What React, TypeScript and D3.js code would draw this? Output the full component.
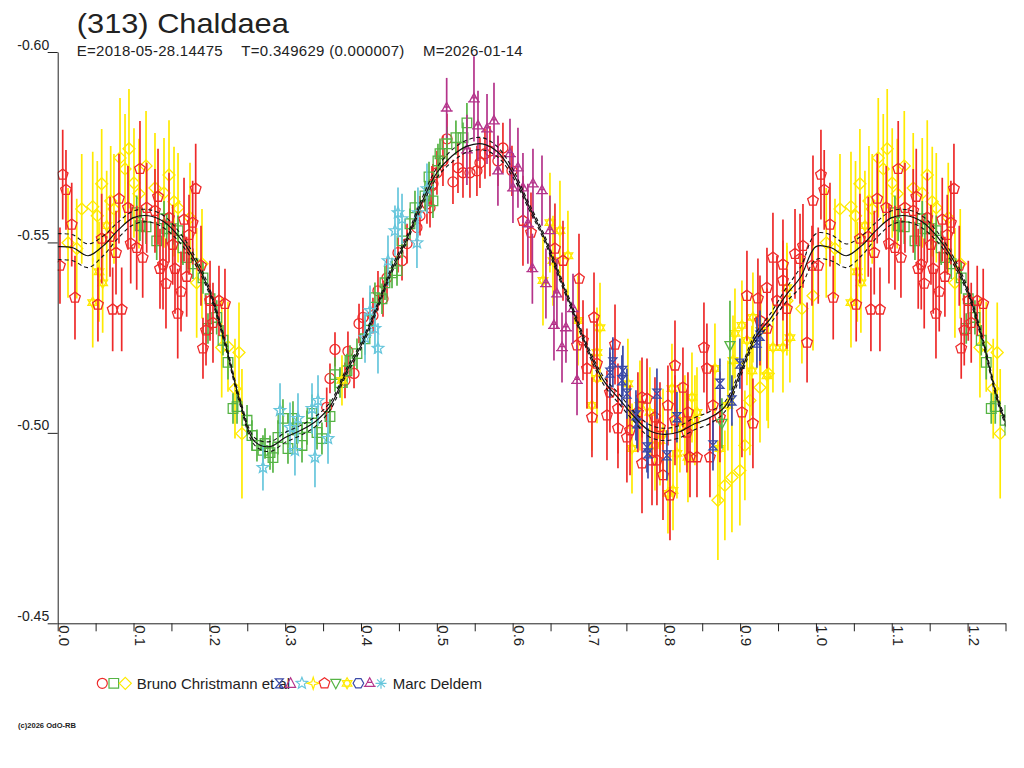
import { useEffect, useRef } from "react"
import * as d3 from "d3"

// each observation: [phase, magnitude, error]
type Obs = [number, number, number]

// ---- Bruno Christmann et al ----
const brunoCircles: Obs[] = [
  [0.3657, -0.5219, 0.0045], [0.3591, -0.5143, 0.0039], [0.3828, -0.5214, 0.0052], [0.3908, -0.5156, 0.0039],
  [0.3789, -0.5138, 0.0047], [0.3548, -0.5067, 0.0052], [0.3974, -0.5287, 0.0052], [0.4158, -0.5308, 0.0047],
  [0.4026, -0.5303, 0.0052], [0.4224, -0.5373, 0.0052], [0.429, -0.5352, 0.0047], [0.4343, -0.5407, 0.0052],
  [0.4488, -0.5473, 0.0052], [0.4541, -0.5452, 0.0052], [0.4607, -0.5497, 0.0052], [0.4738, -0.5539, 0.0052],
  [0.4778, -0.557, 0.0052], [0.491, -0.5591, 0.0052], [0.4949, -0.5654, 0.0052], [0.5134, -0.5772, 0.0066],
  [0.5279, -0.5696, 0.0066], [0.5345, -0.5683, 0.0066], [0.5437, -0.5683, 0.0066], [0.5529, -0.5688, 0.0066],
  [0.5569, -0.5709, 0.0066], [0.5213, -0.5659, 0.0058], [0.5081, -0.5714, 0.0066], [0.5002, -0.5683, 0.0058],
  [0.4936, -0.5649, 0.0052], [0.5872, -0.5748, 0.0066], [0.5806, -0.5714, 0.0066], [0.5701, -0.574, 0.0066],
  [0.5635, -0.5733, 0.0066], [0.487, -0.5601, 0.0052], [0.5991, -0.5688, 0.0066],
]

const brunoSquares: Obs[] = [
  [0.1042, -0.5578, 0.0045], [0.1085, -0.5544, 0.004], [0.1165, -0.5541, 0.0045], [0.1306, -0.5504, 0.005],
  [0.1402, -0.5562, 0.0047], [0.1437, -0.5536, 0.004], [0.1521, -0.5536, 0.0042], [0.1587, -0.5531, 0.004],
  [0.1652, -0.5486, 0.0045], [0.1701, -0.546, 0.004], [0.1784, -0.5444, 0.004], [0.1916, -0.5407, 0.0042],
  [0.2009, -0.5352, 0.004], [0.2097, -0.5303, 0.0045], [0.1982, -0.5274, 0.004], [0.218, -0.5243, 0.004],
  [0.2246, -0.5185, 0.0045], [0.2312, -0.5064, 0.004], [0.2365, -0.5069, 0.0045], [0.2497, -0.5033, 0.004],
  [0.2562, -0.4993, 0.004], [0.2628, -0.4967, 0.0042], [0.2734, -0.4972, 0.004], [0.2707, -0.4954, 0.004],
  [0.28, -0.4948, 0.0045], [0.2839, -0.4935, 0.004], [0.2905, -0.4988, 0.0045], [0.2971, -0.5038, 0.005],
  [0.3037, -0.4959, 0.004], [0.3103, -0.5038, 0.0045], [0.3156, -0.5011, 0.004], [0.3222, -0.4967, 0.0045],
  [0.3288, -0.5014, 0.0045], [0.3354, -0.5051, 0.005], [0.342, -0.5001, 0.0045], [0.3485, -0.4985, 0.0042],
  [0.3591, -0.5043, 0.0045], [0.3657, -0.5153, 0.0045], [0.3723, -0.5132, 0.004], [0.3815, -0.5163, 0.0045],
  [0.3855, -0.519, 0.004], [0.3947, -0.5208, 0.004], [0.4053, -0.5247, 0.0042], [0.4119, -0.5295, 0.0045],
  [0.4184, -0.5355, 0.004], [0.4277, -0.5352, 0.004], [0.4316, -0.5394, 0.0045], [0.4409, -0.542, 0.004],
  [0.4475, -0.5426, 0.004], [0.4541, -0.5504, 0.0045], [0.4646, -0.5549, 0.004], [0.4712, -0.5591, 0.0045],
  [0.4844, -0.5622, 0.004], [0.4949, -0.5609, 0.0045], [0.4897, -0.5672, 0.004], [0.5015, -0.5714, 0.0045],
  [0.5042, -0.5733, 0.004], [0.5134, -0.5759, 0.0045], [0.5252, -0.5775, 0.0045], [0.5345, -0.5775, 0.004],
  [0.5397, -0.5814, 0.0052],
]

const brunoDiamonds: Obs[] = [
  [0.0136, -0.5499, 0.0144], [0.0251, -0.5484, 0.0131], [0.0317, -0.5588, 0.0144], [0.0462, -0.5594, 0.0144],
  [0.0522, -0.557, 0.0144], [0.058, -0.5654, 0.0144], [0.0699, -0.5609, 0.0144], [0.0742, -0.5588, 0.0144],
  [0.0822, -0.5722, 0.0157], [0.0888, -0.5693, 0.0144], [0.094, -0.5746, 0.0157], [0.1006, -0.5656, 0.0144],
  [0.1072, -0.5628, 0.0144], [0.1165, -0.5701, 0.0144], [0.1283, -0.5643, 0.0144], [0.1402, -0.563, 0.0144],
  [0.1468, -0.5677, 0.0144], [0.1534, -0.5607, 0.0144], [0.1587, -0.5591, 0.0144], [0.1745, -0.5565, 0.0144],
  [0.1833, -0.5394, 0.0144], [0.1903, -0.5444, 0.0144], [0.2163, -0.5224, 0.0131], [0.2246, -0.5226, 0.0118],
  [0.2391, -0.5211, 0.0131], [0.2338, -0.5116, 0.0131], [0.243, -0.4998, 0.017], [0.8707, -0.4823, 0.0157],
  [0.8799, -0.4862, 0.0144], [0.8892, -0.4883, 0.0144], [0.8997, -0.4901, 0.0144], [0.9063, -0.4967, 0.0144],
  [0.9129, -0.5085, 0.0144], [0.9262, -0.5119, 0.0144], [0.9371, -0.5156, 0.0144], [0.9815, -0.5326, 0.0144],
  [0.9961, -0.536, 0.0144], [0.9617, -0.5347, 0.0144],
]

// ---- Marc Deldem ----
const marcHourglass: Obs[] = [
  [0.7322, -0.5185, 0.0066], [0.7283, -0.5158, 0.0066], [0.7454, -0.5163, 0.0066], [0.7441, -0.5138, 0.0066],
  [0.7507, -0.5103, 0.0066], [0.7626, -0.5046, 0.0066], [0.764, -0.5025, 0.0066], [0.7772, -0.4962, 0.0066],
  [0.7785, -0.4946, 0.0066], [0.7903, -0.5103, 0.0066], [0.8035, -0.4941, 0.0066], [0.8167, -0.5041, 0.0066],
  [0.8642, -0.4967, 0.0066], [0.8734, -0.5129, 0.0066], [0.8892, -0.5085, 0.0066], [0.8997, -0.5182, 0.0066],
  [0.9222, -0.5237, 0.0066], [0.9262, -0.5255, 0.0066],
]

const marcCyanStars: Obs[] = [
  [0.2707, -0.4909, 0.006], [0.2932, -0.5059, 0.0071], [0.3064, -0.5014, 0.0066], [0.3169, -0.5038, 0.0066],
  [0.3129, -0.4954, 0.0066], [0.3354, -0.5064, 0.0066], [0.3393, -0.4936, 0.0079], [0.3433, -0.5085, 0.0066],
  [0.3565, -0.4985, 0.0066], [0.4224, -0.5222, 0.0066], [0.4184, -0.5274, 0.0066], [0.4119, -0.5321, 0.0066],
  [0.4053, -0.525, 0.0066], [0.4356, -0.5452, 0.0066], [0.4448, -0.5531, 0.0066], [0.4488, -0.5578, 0.0066],
  [0.4541, -0.5562, 0.0066], [0.4738, -0.5499, 0.0066], [0.4751, -0.5578, 0.0066], [0.487, -0.5641, 0.0066],
]

const marcPentagons: Obs[] = [
  [0.0066, -0.5678, 0.0118], [0.0109, -0.5638, 0.0105], [0.0185, -0.5547, 0.011], [0.003, -0.5439, 0.01],
  [0.0228, -0.5355, 0.011], [0.058, -0.551, 0.0118], [0.069, -0.5515, 0.0105], [0.0769, -0.5473, 0.011],
  [0.0531, -0.5337, 0.0097], [0.0725, -0.5324, 0.011], [0.0844, -0.5324, 0.011], [0.0808, -0.5615, 0.0118],
  [0.0927, -0.5591, 0.011], [0.1085, -0.5693, 0.0126], [0.0963, -0.5497, 0.0105], [0.1042, -0.5486, 0.011],
  [0.1121, -0.546, 0.0105], [0.1174, -0.5591, 0.0118], [0.1283, -0.5583, 0.011], [0.1323, -0.562, 0.0126],
  [0.1389, -0.5442, 0.0118], [0.1349, -0.5431, 0.0105], [0.1428, -0.5392, 0.0118], [0.1468, -0.5565, 0.0118],
  [0.1517, -0.5494, 0.0105], [0.1547, -0.5431, 0.0118], [0.1583, -0.5313, 0.0118], [0.1626, -0.5371, 0.0105],
  [0.1666, -0.556, 0.011], [0.1732, -0.552, 0.0105], [0.178, -0.5552, 0.011], [0.182, -0.5641, 0.0118],
  [0.1701, -0.541, 0.0105], [0.189, -0.5439, 0.0105], [0.1916, -0.5222, 0.008], [0.1956, -0.5269, 0.0092],
  [0.2009, -0.5347, 0.0105], [0.2048, -0.5289, 0.0105], [0.2127, -0.5347, 0.0092], [0.2206, -0.5339, 0.0092],
  [0.6136, -0.5557, 0.0118], [0.6242, -0.5526, 0.0105], [0.6558, -0.5484, 0.0118], [0.6664, -0.5452, 0.0105],
  [0.6875, -0.5405, 0.0118], [0.6849, -0.523, 0.0092], [0.6928, -0.5243, 0.0105], [0.7073, -0.5303, 0.0118],
  [0.735, -0.5232, 0.0105], [0.7046, -0.5041, 0.0105], [0.7244, -0.5046, 0.0118], [0.698, -0.5169, 0.0105],
  [0.7112, -0.5182, 0.0118], [0.7283, -0.5106, 0.0105], [0.7389, -0.5064, 0.0118], [0.7706, -0.5093, 0.0105],
  [0.7772, -0.509, 0.0105], [0.7548, -0.5007, 0.0118], [0.7706, -0.492, 0.0131], [0.7838, -0.4928, 0.0118],
  [0.7983, -0.4889, 0.0118], [0.8075, -0.4836, 0.0118], [0.8141, -0.5177, 0.0118], [0.8246, -0.5119, 0.0105],
  [0.8312, -0.5054, 0.0105], [0.8431, -0.4936, 0.0105], [0.8562, -0.5169, 0.0118], [0.8523, -0.5224, 0.0118],
  [0.8642, -0.5072, 0.0105], [0.8602, -0.4936, 0.0105], [0.8734, -0.5041, 0.0118], [0.9024, -0.5054, 0.0118],
  [0.909, -0.536, 0.0118], [0.9169, -0.5025, 0.0118], [0.9354, -0.5381, 0.0105], [0.9262, -0.5295, 0.0118],
  [0.9354, -0.5274, 0.0105], [0.7877, -0.5041, 0.0105], [0.7943, -0.5015, 0.0118], [0.7389, -0.5012, 0.0105],
  [0.7507, -0.4988, 0.0118], [0.7652, -0.5054, 0.0105], [0.8048, -0.5072, 0.0105], [0.8141, -0.5033, 0.0118],
  [0.8299, -0.5001, 0.0105], [0.8339, -0.4936, 0.0105], [0.7903, -0.4928, 0.0118], [0.9433, -0.546, 0.0118],
  [0.9565, -0.5442, 0.0118], [0.9235, -0.5353, 0.0105], [0.9565, -0.54, 0.0105], [0.9724, -0.547, 0.0118],
  [0.9829, -0.5491, 0.011], [0.979, -0.5457, 0.0118], [0.9948, -0.5439, 0.0105], [0.9961, -0.561, 0.0118],
  [0.9883, -0.5237, 0.0105], [0.9486, -0.5347, 0.0118], [0.9617, -0.5326, 0.0105],
]

const marcDownTri: Obs[] = [
  [0.8866, -0.5229, 0.0118], [0.876, -0.5025, 0.0066],
]

const marcYellowStars: Obs[] = [
  [0.0646, -0.5544, 0.0144], [0.0545, -0.5423, 0.0131], [0.0593, -0.5394, 0.0131], [0.0462, -0.5342, 0.0118],
  [0.3749, -0.5138, 0.0066], [0.6492, -0.5552, 0.0131], [0.6624, -0.5531, 0.0131], [0.6532, -0.5452, 0.0118],
  [0.6729, -0.5465, 0.0118], [0.64, -0.54, 0.0118], [0.6862, -0.5295, 0.0118], [0.7152, -0.5276, 0.0118],
  [0.7112, -0.5211, 0.0118], [0.7046, -0.5072, 0.0118], [0.7112, -0.5143, 0.0118], [0.752, -0.5129, 0.0118],
  [0.7574, -0.4959, 0.0118], [0.7679, -0.5072, 0.0118], [0.781, -0.5054, 0.0118], [0.7877, -0.4967, 0.0118],
  [0.7943, -0.498, 0.0118], [0.7983, -0.4998, 0.0118], [0.8101, -0.5116, 0.0118], [0.8167, -0.4946, 0.0118],
  [0.8115, -0.4849, 0.0105], [0.8048, -0.4841, 0.0105], [0.8206, -0.5014, 0.0118], [0.8272, -0.5033, 0.0118],
  [0.8312, -0.4936, 0.0118], [0.8365, -0.5093, 0.0118], [0.8431, -0.5054, 0.0118], [0.8404, -0.5033, 0.0118],
  [0.8668, -0.5169, 0.0118], [0.8734, -0.4959, 0.0144], [0.8839, -0.5072, 0.0118], [0.8906, -0.519, 0.0118],
  [0.8932, -0.5261, 0.0118], [0.9024, -0.5282, 0.0118], [0.909, -0.5243, 0.0118], [0.9156, -0.5163, 0.0118],
  [0.9169, -0.5303, 0.0118], [0.9271, -0.5269, 0.0118], [0.9354, -0.515, 0.0118], [0.9433, -0.5224, 0.0118],
  [0.9565, -0.5224, 0.0118], [0.9657, -0.525, 0.0118], [0.9617, -0.5381, 0.0118],
]

const marcTriCross: Obs[] = [
  [0.513, -0.5853, 0.0079], [0.549, -0.5877, 0.0112], [0.5543, -0.5806, 0.0092], [0.5662, -0.5798, 0.0092],
  [0.5754, -0.5819, 0.01], [0.5397, -0.5743, 0.0092], [0.5806, -0.5688, 0.0092], [0.5965, -0.5733, 0.0092],
  [0.607, -0.5696, 0.0105], [0.6004, -0.5643, 0.0092], [0.6136, -0.5643, 0.0092], [0.6268, -0.5654, 0.0092],
  [0.6387, -0.5636, 0.0092], [0.6201, -0.5549, 0.0105], [0.6492, -0.5531, 0.0092], [0.626, -0.5431, 0.0092],
  [0.6439, -0.5392, 0.0092], [0.6584, -0.5365, 0.0092], [0.6796, -0.5326, 0.0092], [0.6545, -0.5282, 0.0092],
  [0.6703, -0.5276, 0.0092], [0.6651, -0.5224, 0.0092], [0.6849, -0.5138, 0.0092],
]

// ---- Fourier fit (centre) and its 1-sigma band ----
const fitPhase = [
  0, 0.02, 0.04, 0.06, 0.08, 0.1, 0.12, 0.14, 0.16, 0.18, 0.2, 0.22, 0.24, 0.26, 0.28, 0.3, 0.32, 0.34,
  0.36, 0.38, 0.4, 0.42, 0.44, 0.46, 0.48, 0.5, 0.52, 0.54, 0.56, 0.58, 0.6, 0.62, 0.64, 0.66, 0.68, 0.7,
  0.72, 0.74, 0.76, 0.78, 0.8, 0.82, 0.84, 0.86, 0.88, 0.9, 0.92, 0.94, 0.96, 0.98, 1.0,
]
const fitMag = [
  -0.5489, -0.5486, -0.5465, -0.5491, -0.5533, -0.5565, -0.557, -0.5554, -0.5515, -0.5457, -0.5373, -0.5242,
  -0.5085, -0.4977, -0.4964, -0.4988, -0.5006, -0.503, -0.5072, -0.5158, -0.5229, -0.5323, -0.5426, -0.5507,
  -0.5604, -0.5683, -0.5727, -0.5753, -0.5759, -0.5738, -0.5683, -0.5601, -0.552, -0.542, -0.5318, -0.5216,
  -0.5137, -0.509, -0.5043, -0.5006, -0.4996, -0.5003, -0.5024, -0.504, -0.5069, -0.5156, -0.525, -0.53,
  -0.536, -0.541, -0.5489,
]
const fitSigma = [
  0.0034, 0.0034, 0.0031, 0.0026, 0.0021, 0.0018, 0.0016, 0.0016, 0.0013, 0.001, 0.0008, 0.0008, 0.0008,
  0.001, 0.0013, 0.0013, 0.0013, 0.0013, 0.001, 0.0008, 0.0008, 0.0008, 0.0008, 0.0008, 0.001, 0.0013,
  0.0016, 0.0016, 0.0016, 0.0013, 0.001, 0.0008, 0.0008, 0.0008, 0.0008, 0.0008, 0.001, 0.0013, 0.0013,
  0.0016, 0.0016, 0.0016, 0.0016, 0.0016, 0.0013, 0.001, 0.001, 0.0013, 0.0018, 0.0026, 0.0034,
]

const xTicks = [
  0, 0.05, 0.1, 0.15, 0.2, 0.25, 0.3, 0.35, 0.4, 0.45, 0.5, 0.55, 0.6, 0.65, 0.7, 0.75, 0.8, 0.85, 0.9,
  0.95, 1.0, 1.05, 1.1, 1.15, 1.2, 1.25,
]
const yTicks = [-0.6, -0.55, -0.5, -0.45]

const FONT = "'Liberation Sans', Arial, Helvetica, sans-serif"
const RED = "#ee2a2a"
const GREEN = "#55b444"
const YELLOW = "#ffea00"
const CYAN = "#66c6dc"
const MAGENTA = "#b4338a"
const BLUE = "#3a4aa8"

function polygon(n: number, r: number, start: number) {
  const pts = d3.range(n).map((i) => {
    const a = start + (i * 2 * Math.PI) / n
    return `${(r * Math.cos(a)).toFixed(2)},${(r * Math.sin(a)).toFixed(2)}`
  })
  return "M" + pts.join("L") + "Z"
}

function star(n: number, ro: number, ri: number, start: number) {
  const pts = d3.range(n * 2).map((i) => {
    const a = start + (i * Math.PI) / n
    const r = i % 2 === 0 ? ro : ri
    return `${(r * Math.cos(a)).toFixed(2)},${(r * Math.sin(a)).toFixed(2)}`
  })
  return "M" + pts.join("L") + "Z"
}

const shapes: Record<string, string> = {
  circle: "M-5,0a5,5 0 1,0 10,0a5,5 0 1,0 -10,0",
  square: "M-4.8,-4.8h9.6v9.6h-9.6Z",
  diamond: "M0,-6L6,0L0,6L-6,0Z",
  hourglass: "M-4,-4.5H4L-4,4.5H4Z",
  triangle: "M0,-5.5L5,4H-5Z",
  star5: star(5, 6, 2.6, -Math.PI / 2),
  star4: star(4, 6, 2, -Math.PI / 2),
  pentagon: polygon(5, 5.6, -Math.PI / 2),
  downTri: "M-5,-4H5L0,5.5Z",
  hexagram: "M0,-5.5L4.8,2.75H-4.8Z M0,5.5L4.8,-2.75H-4.8Z",
  hexagon: polygon(6, 5.3, 0),
  triCross: "M0,-5.5L4.6,3H-4.6Z M-6,3H6 M-3,-1H3",
  asterisk: "M0,-5.5V5.5 M-5.5,0H5.5 M-3.9,-3.9L3.9,3.9 M-3.9,3.9L3.9,-3.9",
}

const plotSeries = [
  { data: brunoDiamonds, shape: "diamond", color: YELLOW },
  { data: brunoCircles, shape: "circle", color: RED },
  { data: brunoSquares, shape: "square", color: GREEN },
  { data: marcYellowStars, shape: "hexagram", color: YELLOW },
  { data: marcPentagons, shape: "pentagon", color: RED },
  { data: marcHourglass, shape: "hourglass", color: BLUE },
  { data: marcCyanStars, shape: "star5", color: CYAN },
  { data: marcDownTri, shape: "downTri", color: GREEN },
  { data: marcTriCross, shape: "triCross", color: MAGENTA },
]

const brunoLegend = [
  { shape: "circle", color: RED },
  { shape: "square", color: GREEN },
  { shape: "diamond", color: YELLOW },
]
const marcLegend = [
  { shape: "hourglass", color: BLUE },
  { shape: "triangle", color: MAGENTA },
  { shape: "star5", color: CYAN },
  { shape: "star4", color: YELLOW },
  { shape: "pentagon", color: RED },
  { shape: "downTri", color: GREEN },
  { shape: "hexagram", color: YELLOW },
  { shape: "hexagon", color: BLUE },
  { shape: "triCross", color: MAGENTA },
  { shape: "asterisk", color: CYAN },
]

export default function App() {
  const svgRef = useRef<SVGSVGElement | null>(null)

  useEffect(() => {
    if (!svgRef.current) return
    const svg = d3.select(svgRef.current)
    svg.selectAll("*").remove()

    const x = d3.scaleLinear().domain([0, 1.25]).range([57.7, 1005.5])
    const y = d3.scaleLinear().domain([-0.6, -0.45]).range([52, 623.3])

    svg.append("rect").attr("width", 1024).attr("height", 768).attr("fill", "#fff")

    svg
      .append("clipPath")
      .attr("id", "plotclip")
      .append("rect")
      .attr("x", 57.7)
      .attr("y", 0)
      .attr("width", 1005.5 - 57.7)
      .attr("height", 640)

    const plot = svg.append("g").attr("clip-path", "url(#plotclip)")

    // phase-folded points, first quarter repeated after phase 1
    const unfold = (data: Obs[]) => [...data, ...data.filter((d) => d[0] <= 0.25).map((d) => [d[0] + 1, d[1], d[2]] as Obs)]

    plotSeries.forEach((s) => {
      const pts = unfold(s.data)
      const g = plot.append("g")
      g.selectAll("line")
        .data(pts)
        .enter()
        .append("line")
        .attr("x1", (d) => x(d[0]))
        .attr("x2", (d) => x(d[0]))
        .attr("y1", (d) => y(d[1] - d[2]))
        .attr("y2", (d) => y(d[1] + d[2]))
        .attr("stroke", s.color)
        .attr("stroke-width", 1.7)
      g.selectAll("path")
        .data(pts)
        .enter()
        .append("path")
        .attr("transform", (d) => `translate(${x(d[0])},${y(d[1])})`)
        .attr("d", shapes[s.shape])
        .attr("fill", "none")
        .attr("stroke", s.color)
        .attr("stroke-width", 1.3)
    })

    // fit curve
    const fit = fitPhase.map((p, i) => ({ p, m: fitMag[i], s: fitSigma[i] }))
    const fitAll = [...fit, ...fit.filter((d) => d.p > 0 && d.p <= 0.26).map((d) => ({ ...d, p: d.p + 1 }))]
    const line = (off: number) =>
      d3
        .line<{ p: number; m: number; s: number }>()
        .x((d) => x(d.p))
        .y((d) => y(d.m + off * d.s))
        .curve(d3.curveCatmullRom)
    plot
      .append("path")
      .attr("d", line(0)(fitAll))
      .attr("fill", "none")
      .attr("stroke", "#111")
      .attr("stroke-width", 1.2)
    ;[-1, 1].forEach((o) => {
      plot
        .append("path")
        .attr("d", line(o)(fitAll))
        .attr("fill", "none")
        .attr("stroke", "#111")
        .attr("stroke-width", 1.1)
        .attr("stroke-dasharray", "4,3")
    })

    // axes
    const xAxis = svg
      .append("g")
      .attr("transform", `translate(0,${y(-0.45)})`)
      .call(
        d3
          .axisBottom(x)
          .tickValues(xTicks)
          .tickSize(8)
          .tickSizeOuter(0)
          .tickFormat((d) => (Math.round((d as number) * 100) % 10 === 0 ? (d as number).toFixed(1) : "")),
      )
    xAxis.attr("font-family", FONT).attr("font-size", 15)
    xAxis.selectAll("path,line").attr("stroke", "#222")
    xAxis
      .selectAll("text")
      .attr("fill", "#222")
      .attr("transform", "rotate(90)")
      .attr("x", 2)
      .attr("y", -0.5)
      .attr("dy", null)
      .attr("text-anchor", "start")

    const yAxis = svg
      .append("g")
      .attr("transform", `translate(${x(0)},0)`)
      .call(
        d3
          .axisLeft(y)
          .tickValues(yTicks)
          .tickSize(10)
          .tickSizeOuter(0)
          .tickFormat((d) => (d as number).toFixed(2)),
      )
    yAxis.attr("font-family", FONT).attr("font-size", 14)
    yAxis.selectAll("path,line").attr("stroke", "#222")
    yAxis.selectAll("text").attr("fill", "#222").attr("x", -8.5).attr("dy", -3)

    // titles
    svg
      .append("text")
      .attr("x", 76.8)
      .attr("y", 33)
      .attr("font-family", FONT)
      .attr("font-size", 28)
      .attr("fill", "#222")
      .attr("textLength", 212)
      .attr("lengthAdjust", "spacingAndGlyphs")
      .text("(313) Chaldaea")

    const sub = [
      { t: "E=2018-05-28.14475", x0: 76.8, x1: 222.6 },
      { t: "T=0.349629 (0.000007)", x0: 241.3, x1: 404.3 },
      { t: "M=2026-01-14", x0: 423, x1: 522.7 },
    ]
    sub.forEach((s) => {
      svg
        .append("text")
        .attr("x", s.x0)
        .attr("y", 56)
        .attr("font-family", FONT)
        .attr("font-size", 15)
        .attr("fill", "#222")
        .attr("textLength", s.x1 - s.x0)
        .attr("lengthAdjust", "spacing")
        .text(s.t)
    })

    // legend
    const ly = 683.3
    const drawMarker = (cx: number, m: { shape: string; color: string }) => {
      svg
        .append("path")
        .attr("transform", `translate(${cx},${ly})`)
        .attr("d", shapes[m.shape])
        .attr("fill", "none")
        .attr("stroke", m.color)
        .attr("stroke-width", 1.2)
    }
    svg
      .append("text")
      .attr("x", 136.7)
      .attr("y", 688.5)
      .attr("font-family", FONT)
      .attr("font-size", 15)
      .attr("fill", "#222")
      .text("Bruno Christmann et al")
    svg
      .append("text")
      .attr("x", 392.7)
      .attr("y", 688.5)
      .attr("font-family", FONT)
      .attr("font-size", 15)
      .attr("fill", "#222")
      .text("Marc Deldem")
    brunoLegend.forEach((m, i) => drawMarker(102.3 + i * 11.5, m))
    marcLegend.forEach((m, i) => drawMarker(279.3 + i * 11.3, m))

    svg
      .append("text")
      .attr("x", 18)
      .attr("y", 728)
      .attr("font-family", FONT)
      .attr("font-size", 8)
      .attr("font-weight", "bold")
      .attr("fill", "#222")
      .attr("textLength", 58)
      .attr("lengthAdjust", "spacingAndGlyphs")
      .text("(c)2026 OdO-RB")
  }, [])

  return (
    <svg
      ref={svgRef}
      width={1024}
      height={768}
      style={{ position: "absolute", left: 0, top: 0, display: "block" }}
    />
  )
}
